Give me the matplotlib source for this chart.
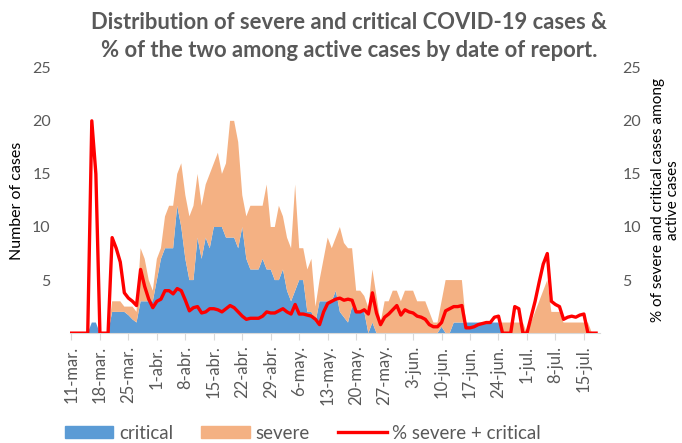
import pandas as pd
import matplotlib
matplotlib.use("Agg")
import matplotlib.pyplot as plt
import matplotlib.transforms as mtransforms
from matplotlib.patches import Patch
from matplotlib.lines import Line2D

plt.rcParams['font.family'] = ['Lato', 'DejaVu Sans']

# daily values from 11-mar to 18-jul
days = pd.date_range("2020-03-11", periods=130, freq="D")

critical = [0, 0, 0, 0, 0, 1, 1, 0, 0, 0,
            2, 2, 2, 2, 1.7, 1.3, 1, 3, 3, 3,
            3, 5, 7, 8, 8, 8, 12, 10, 7, 5,
            5, 9, 7, 9, 8, 10, 10, 10, 9, 9,
            9, 8, 10, 7, 6, 6, 6, 7, 6, 6,
            5, 5, 6, 4, 3, 4, 5, 5, 2, 2,
            1, 3, 3, 3, 3, 4, 2, 1.5, 1, 2.5,
            2, 2, 2, 0, 1, 0, 0, 0, 0, 0,
            0, 0, 0, 0, 0, 0, 0, 0, 0, 0,
            0, 0.6, 0, 0, 1, 1, 1, 1, 1, 1,
            1, 1, 1, 1, 1, 1, 0, 0, 0, 0,
            0, 0, 0, 0, 0, 0, 0, 0, 0, 0,
            0, 0, 0, 0, 0, 0, 0, 0, 0, 0]

severe = [0, 0, 0, 0, 0, 0, 0, 0, 0, 0,
          1, 1, 1, 0.5, 0.8, 1.2, 1, 5, 4, 2,
          1, 2, 1, 3, 4, 4, 3, 6, 6, 6,
          7, 6, 5, 5, 7, 6, 7, 5, 7, 11,
          11, 10, 3, 4, 6, 6, 6, 5, 8, 4,
          5, 7, 5, 5, 5, 10, 3, 3, 4, 5,
          1.5, 2, 4, 6, 5, 5, 8, 7, 7, 5.5,
          2, 2, 1.5, 2.4, 5, 3.5, 1, 3, 3, 4,
          4, 3, 4, 4, 4, 3, 3, 3, 2, 1,
          1, 2.4, 5, 5, 4, 4, 4, 0, 0, 0,
          0, 0, 0, 0, 0, 0, 1, 1, 1, 1,
          1, 1, 0, 1, 2, 3, 4, 5, 2, 2,
          2, 1, 1, 1, 1, 1, 1, 1, 0, 0]

pct_severe_critical = [0, 0, 0, 0, 0, 20, 15, 0, 0, 0,
                       9, 8, 6.7, 3.8, 3.3, 3.0, 2.6, 6.0, 4.4, 3.2,
                       2.4, 3.0, 3.2, 4.0, 4.0, 3.7, 4.2, 4.0, 3.1, 2.1,
                       2.4, 2.5, 1.9, 2.0, 2.3, 2.3, 2.2, 2.0, 2.3, 2.6,
                       2.4, 2.0, 1.6, 1.3, 1.4, 1.4, 1.4, 1.6, 2.0, 1.9,
                       1.9, 2.1, 2.3, 2.0, 1.8, 2.7, 1.8, 1.8, 1.7, 1.6,
                       1.3, 0.8, 2.0, 2.8, 3.0, 3.2, 3.3, 3.1, 3.2, 3.1,
                       2.0, 2.0, 2.2, 1.8, 3.8, 1.9, 0.8, 1.5, 1.8, 2.2,
                       2.6, 1.7, 2.2, 2.0, 1.9, 1.6, 1.5, 1.3, 0.8, 0.6,
                       0.6, 1.0, 2.1, 2.3, 2.5, 2.5, 2.6, 0.5, 0.5, 0.6,
                       0.8, 0.9, 1.0, 1.0, 1.5, 1.6, 0, 0, 0, 2.5,
                       2.3, 0, 0, 1.5, 3.0, 4.8, 6.5, 7.5, 3.0, 2.7,
                       2.5, 1.3, 1.5, 1.6, 1.5, 1.7, 1.8, 0, 0, 0]

tick_labels = ["11-mar.", "18-mar.", "25-mar.", "1-abr.", "8-abr.", "15-abr.",
               "22-abr.", "29-abr.", "6-may.", "13-may.", "20-may.", "27-may.",
               "3-jun.", "10-jun.", "17-jun.", "24-jun.", "1-jul.", "8-jul.", "15-jul."]

grey = "#595959"
blue = "#5B9BD5"
orange = "#F4B183"
red = "#FF0000"

x = list(range(len(days)))

fig = plt.figure(figsize=(6.82, 4.43), dpi=100)
ax = fig.add_axes([0.103, 0.248, 0.777, 0.599])
ax.stackplot(x, critical, severe, colors=[blue, orange], linewidth=0)
ax.set_ylim(0, 25)
ax.set_xlim(-0.3, 130)
ax.set_yticks([5, 10, 15, 20, 25])
ax.set_xticks(x[::7])
ax.set_xticklabels(tick_labels, rotation=90, fontsize=12, color=grey)
shift = mtransforms.ScaledTranslation(4 / 100, 0, fig.dpi_scale_trans)
for lab in ax.get_xticklabels():
    lab.set_transform(lab.get_transform() + shift)
ax.tick_params(axis='y', length=0, labelsize=11.5, labelcolor=grey, pad=14)
ax.tick_params(axis='x', length=5, color="#D9D9D9", pad=4)
for s in ["left", "right", "top"]:
    ax.spines[s].set_visible(False)
ax.spines["bottom"].set_color("#D9D9D9")
ax.set_ylabel("Number of cases", fontsize=11.5, color="black", labelpad=6)

ax2 = ax.twinx()
ax2.plot(x, pct_severe_critical, color=red, linewidth=2.4, solid_joinstyle="round")
ax2.set_ylim(0, 25)
ax2.set_yticks([5, 10, 15, 20, 25])
ax2.tick_params(axis='y', length=0, labelsize=11.5, labelcolor=grey, pad=16)
for s in ["left", "right", "top", "bottom"]:
    ax2.spines[s].set_visible(False)
ax2.set_ylabel("% of severe and critical cases among\nactive cases", fontsize=11,
               color="black", labelpad=7, linespacing=1.1)

fig.text(0.512, 0.918, "Distribution of severe and critical COVID-19 cases &\n"
         "% of the two among active cases by date of report.",
         ha="center", va="center", fontsize=15.8, fontweight="bold", color=grey,
         linespacing=1.45)

handles = [Patch(color=blue), Patch(color=orange), Line2D([0], [0], color=red, linewidth=2.4)]
fig.legend(handles, ["critical", "severe", "% severe + critical"], loc="lower left",
           bbox_to_anchor=(0.07, -0.035), ncol=3, frameon=False, fontsize=13.5,
           labelcolor=grey, handlelength=2.6, handleheight=0.55, columnspacing=1.5,
           handletextpad=0.3)

fig.savefig("out.png", dpi=100)
